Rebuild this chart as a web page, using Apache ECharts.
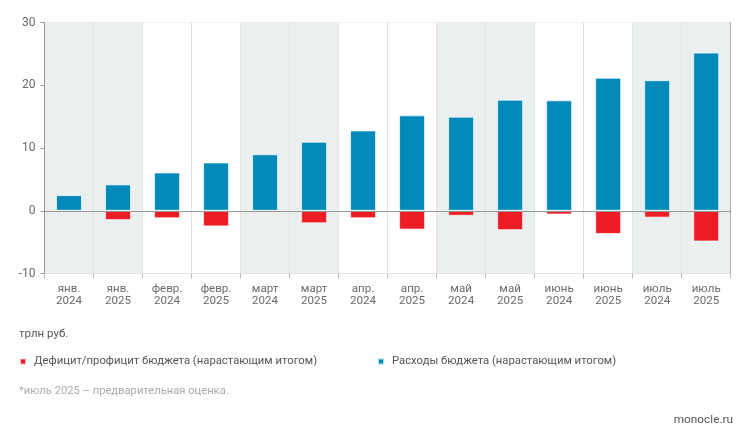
<!DOCTYPE html>
<html><head><meta charset="utf-8">
<script src="https://cdn.jsdelivr.net/npm/echarts@6/dist/echarts.min.js"></script>
<style>html,body{margin:0;padding:0;background:#fff}#c{width:750px;height:439px}</style>
</head><body><div id="c"></div>
<script>
var categories = ['янв.\n2024','янв.\n2025','февр.\n2024','февр.\n2025','март\n2024','март\n2025','апр.\n2024','апр.\n2025','май\n2024','май\n2025','июнь\n2024','июнь\n2025','июль\n2024','июль\n2025'];
var spending = [2.5, 4.2, 6.1, 7.7, 9.0, 11.0, 12.8, 15.2, 15.0, 17.7, 17.6, 21.2, 20.8, 25.2];
var balance = [-0.15, -1.5, -1.2, -2.5, -0.3, -2.0, -1.2, -3.0, -0.8, -3.1, -0.6, -3.7, -1.1, -4.9];
var yTicks = {min: -10, max: 30, interval: 10};
var nameBalance = 'Дефицит/профицит бюджета (нарастающим итогом)';
var nameSpending = 'Расходы бюджета (нарастающим итогом)';

var FONT = 'Roboto';
var chart = echarts.init(document.getElementById('c'));
chart.setOption({
  animation: false,
  textStyle: {fontFamily: FONT},
  title: [
    {text: 'трлн руб.', left: 14, top: 323, textStyle: {fontSize: 11.5, fontWeight: 'normal', color: '#555', fontFamily: FONT}},
    {text: '*июль 2025 – предварительная оценка.', left: 14, top: 381, textStyle: {fontSize: 11.2, fontWeight: 'normal', color: '#aaa', fontFamily: FONT}},
    {text: 'monocle.ru', right: 12, top: 409, textStyle: {fontSize: 11.8, fontWeight: 'normal', color: '#555', fontFamily: FONT}}
  ],
  legend: [
    {data: [nameBalance], left: 14, top: 351, icon: 'rect', itemWidth: 6, itemHeight: 6,
     textStyle: {fontSize: 11.3, color: '#555', fontFamily: FONT, padding: [0, 0, 0, 3]}},
    {data: [nameSpending], left: 372, top: 351, icon: 'rect', itemWidth: 6, itemHeight: 6,
     textStyle: {fontSize: 11.3, color: '#555', fontFamily: FONT, padding: [0, 0, 0, 3]}}
  ],
  grid: {left: 44.5, right: 19.3, top: 22.5, bottom: 165.5},
  xAxis: {
    type: 'category', data: categories,
    axisLine: {onZero: false, lineStyle: {color: '#e3e3e3'}},
    axisTick: {show: true, interval: 0, length: 5, lineStyle: {color: '#bbb'}},
    axisLabel: {interval: 0, color: '#6a6a6a', fontSize: 11.6, lineHeight: 12, margin: 10, fontFamily: FONT},
    splitLine: {show: true, interval: 0, lineStyle: {color: '#e3e3e3'}},
    splitArea: {show: true, interval: 0, areaStyle: {color: ['#ebeff0', '#ebeff0', '#ffffff', '#ffffff']}}
  },
  yAxis: [{
    type: 'value', min: yTicks.min, max: yTicks.max, interval: yTicks.interval,
    axisLine: {show: true, lineStyle: {color: '#999'}},
    axisTick: {show: true, length: 4, lineStyle: {color: '#999'}},
    axisLabel: {color: '#6a6a6a', fontSize: 12, margin: 9, fontFamily: FONT},
    splitLine: {lineStyle: {color: '#e8e8e8'}}
  }, {
    type: 'value', min: yTicks.min, max: yTicks.max, interval: yTicks.interval, position: 'right',
    axisLine: {show: true, lineStyle: {color: '#aaa'}},
    axisTick: {show: false}, axisLabel: {show: false}, splitLine: {show: false}
  }],
  series: [
    {name: nameSpending, type: 'bar', data: spending, barWidth: 26, barGap: '-100%',
     itemStyle: {color: '#0089b9', borderColor: 'rgba(255,255,255,0.7)', borderWidth: 1}},
    {name: nameBalance, type: 'bar', data: balance, barWidth: 26,
     itemStyle: {color: '#ee1c25', borderColor: 'rgba(255,255,255,0.7)', borderWidth: 1},
     markLine: {silent: true, symbol: 'none', label: {show: false},
       lineStyle: {color: '#999', type: 'solid', width: 1}, data: [{yAxis: 0}]}}
  ]
});
</script></body></html>
